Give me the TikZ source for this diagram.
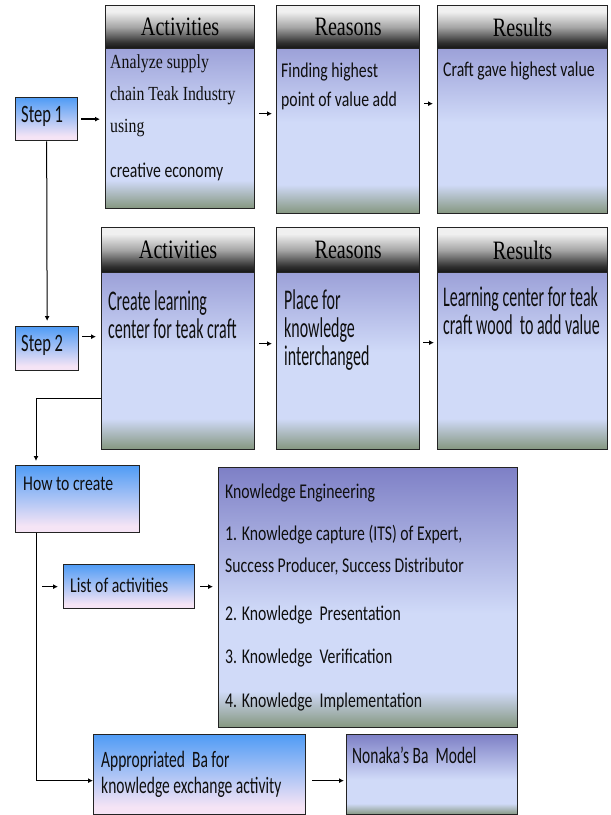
\documentclass[tikz,border=0pt]{standalone}
\usepackage{fontspec}
\usepackage{tikz,xcolor}
\usetikzlibrary{arrows.meta,calc}

\newfontfamily\headfont{Liberation Serif}[FakeStretch=0.76]
\newfontfamily\serfont{Liberation Serif}[FakeStretch=0.79]
\newfontfamily\calfont{Carlito}[FakeStretch=0.75]
\newfontfamily\stepfont{Carlito}[FakeStretch=0.66]
\newfontfamily\tallfont{Carlito}[FakeStretch=0.56]

\definecolor{bodypurple}{RGB}{126,128,198}
\definecolor{bodylight}{RGB}{208,218,248}
\definecolor{bodygreen}{RGB}{132,150,126}
\definecolor{stepblue}{RGB}{80,156,245}
\definecolor{steppink}{RGB}{245,228,245}
\definecolor{headdark}{RGB}{20,20,20}
\definecolor{headdim}{RGB}{48,48,48}
\definecolor{headmid}{RGB}{165,165,165}
\definecolor{headlight}{RGB}{240,240,240}
\definecolor{boxgray}{RGB}{35,35,35}
\definecolor{inkgray}{RGB}{15,15,15}

\pgfdeclareverticalshading{bodyshade}{100bp}{color(0bp)=(bodygreen); color(25bp)=(bodygreen); color(32bp)=(bodylight); color(47bp)=(bodylight); color(75bp)=(bodypurple); color(100bp)=(bodypurple)}
\pgfdeclareverticalshading{headshade}{100bp}{color(0bp)=(headdark); color(25bp)=(headdark); color(32bp)=(headdim); color(50bp)=(headmid); color(68bp)=(headlight); color(100bp)=(headlight)}
\pgfdeclareverticalshading{stepshade}{100bp}{color(0bp)=(steppink); color(25bp)=(steppink); color(30bp)=(steppink); color(75bp)=(stepblue); color(100bp)=(stepblue)}

\tikzset{
  boxline/.style={draw=boxgray, line width=1.3pt, anchor=north west, inner sep=0pt},
  bodybox/.style={boxline, shading=bodyshade},
  headbox/.style={boxline, shading=headshade, text=black, font=\headfont\fontsize{26.5}{28}\selectfont},
  stepbox/.style={boxline, shading=stepshade},
  boxtext/.style={anchor=base west, inner sep=0pt, align=left, text=inkgray},
  link/.style={draw=black, line width=1pt},
  shortlink/.style={draw=black, line width=1.4pt}
}

\begin{document}
\begin{tikzpicture}[x=1pt,y=-1pt,>={Latex[length=5pt,width=5pt]}]
\useasboundingbox (0,0) rectangle (611,815);

% step 1 (text nodes sit on the baseline of their last line)
\node[stepbox, minimum width=62pt, minimum height=43pt] (s1) at (15,97) {};
\node[boxtext, font=\stepfont\fontsize{25}{28}\selectfont] (s1t) at (21,122) {Step 1};

\node[bodybox, minimum width=149pt, minimum height=203pt] (act1) at (105,5) {};
\node[headbox, minimum width=149pt, minimum height=43pt] (act1h) at (105,5) {Activities};
\node[boxtext, font=\serfont\fontsize{20}{32}\selectfont] (act1t) at (110,177)
  {Analyze supply\\chain Teak Industry\\using\\[13pt]{\calfont\fontsize{21}{24}\selectfont creative economy}};

\node[bodybox, minimum width=143pt, minimum height=208pt] (rea1) at (276,5) {};
\node[headbox, minimum width=143pt, minimum height=43pt] (rea1h) at (276,5) {Reasons};
\node[boxtext, font=\calfont\fontsize{21}{29}\selectfont] (rea1t) at (281,106) {Finding highest\\point of value add};

\node[bodybox, minimum width=170pt, minimum height=208pt] (res1) at (437,5) {};
\node[headbox, minimum width=170pt, minimum height=43pt] (res1h) at (437,5) {Results};
\node[boxtext, font=\calfont\fontsize{21}{29}\selectfont] (res1t) at (443,76) {Craft gave highest value};

% step 2
\node[stepbox, minimum width=63pt, minimum height=44pt] (s2) at (15,326) {};
\node[boxtext, font=\stepfont\fontsize{25}{28}\selectfont] (s2t) at (21,351) {Step 2};

\node[bodybox, minimum width=153pt, minimum height=222pt] (act2) at (101,227) {};
\node[headbox, minimum width=153pt, minimum height=45pt] (act2h) at (101,227) {Activities};
\node[boxtext, font=\tallfont\fontsize{28.5}{28}\selectfont] (act2t) at (108,338) {Create learning\\center for teak craft};

\node[bodybox, minimum width=143pt, minimum height=222pt] (rea2) at (276,227) {};
\node[headbox, minimum width=143pt, minimum height=45pt] (rea2h) at (276,227) {Reasons};
\node[boxtext, font=\tallfont\fontsize{28.5}{28}\selectfont] (rea2t) at (284,365) {Place for\\knowledge\\interchanged};

\node[bodybox, minimum width=170pt, minimum height=222pt] (res2) at (437,227) {};
\node[headbox, minimum width=170pt, minimum height=45pt] (res2h) at (437,227) {Results};
\node[boxtext, font=\tallfont\fontsize{28.5}{28}\selectfont] (res2t) at (443,334) {Learning center for teak\\craft wood\ \ to add value};

% how to create
\node[stepbox, minimum width=124pt, minimum height=67pt] (how) at (15,465) {};
\node[boxtext, font=\calfont\fontsize{21}{24}\selectfont] (howt) at (23,490) {How to create};

\node[stepbox, minimum width=131pt, minimum height=44pt] (list) at (63,564) {};
\node[boxtext, font=\calfont\fontsize{21}{24}\selectfont] (listt) at (70,592) {List of activities};

\node[bodybox, minimum width=299pt, minimum height=260pt] (ke) at (218,467) {};
\node[boxtext, font=\calfont\fontsize{21}{32}\selectfont] (ket) at (225,707)
  {Knowledge Engineering\\[10pt]1. Knowledge capture (ITS) of Expert,\\Success Producer, Success Distributor\\[16pt]2. Knowledge\ \ Presentation\\[11pt]3. Knowledge\ \ Verification\\[12pt]4. Knowledge\ \ Implementation};

\node[stepbox, minimum width=212pt, minimum height=80pt] (appr) at (93,734) {};
\node[boxtext, font=\stepfont\fontsize{23.5}{26}\selectfont] (apprt) at (101,793) {Appropriated\ \ Ba for\\knowledge exchange activity};

\node[bodybox, minimum width=171pt, minimum height=80pt] (nonaka) at (346,734) {};
\node[boxtext, font=\stepfont\fontsize{23.5}{26}\selectfont] (nonakat) at (352,763) {Nonaka’s Ba\ \ Model};

% connectors
\coordinate (hook) at (36,398);
\draw[shortlink,->, shorten <=3pt, shorten >=5pt] (s1.east) -- (s1.east -| act1.west);
\draw[shortlink,->, shorten <=4pt, shorten >=4pt] ([yshift=-6.5pt]act1.east) -- ([yshift=-6.5pt]act1.east -| rea1.west);
\draw[shortlink,->, shorten <=4pt, shorten >=4pt] ([yshift=6pt]rea1.east) -- ([yshift=6pt]rea1.east -| res1.west);
\draw[link,->, shorten >=5pt] (s1.south) -- (s2.north);
\draw[shortlink,->, shorten <=3pt, shorten >=5pt] ([yshift=12pt]s2.east) -- ([yshift=12pt]s2.east -| act2.west);
\draw[shortlink,->, shorten <=4pt, shorten >=4pt] ([yshift=-5pt]act2.east) -- ([yshift=-5pt]act2.east -| rea2.west);
\draw[shortlink,->, shorten <=3pt, shorten >=3pt] ([yshift=-4pt]rea2.east) -- ([yshift=-4pt]rea2.east -| res2.west);
\draw[link,->, shorten >=4pt] (hook -| act2.west) -- (hook) -- (hook |- how.north);
\draw[link,->] (hook |- how.south) |- ([yshift=-6pt]appr.west);
\draw[shortlink,->, shorten >=5pt] ([xshift=-21pt]list.west) -- (list.west);
\draw[shortlink,->, shorten <=5pt, shorten >=5pt] (list.east) -- (list.east -| ke.west);
\draw[shortlink,->, shorten <=6pt, shorten >=2pt] ([yshift=-6pt]appr.east) -- ([yshift=-6pt]appr.east -| nonaka.west);
\end{tikzpicture}
\end{document}
